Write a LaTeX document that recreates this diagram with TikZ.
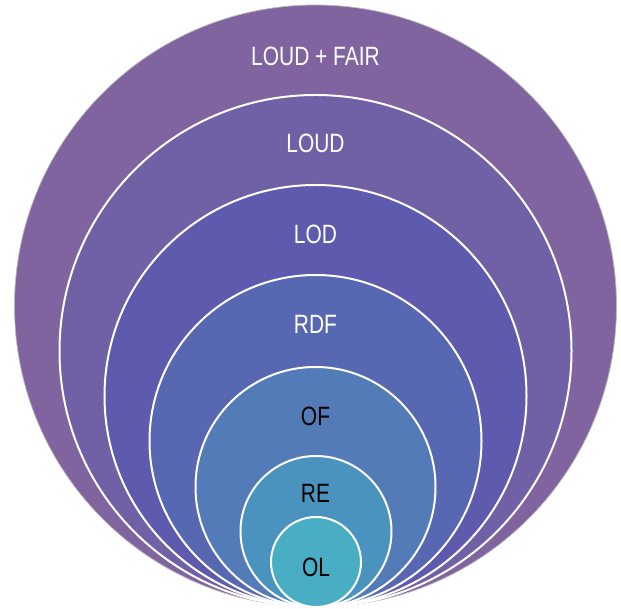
\documentclass[tikz,border=0pt]{standalone}
\usepackage{fontspec}
\setmainfont{Liberation Sans}[FakeStretch=0.79]
\definecolor{ringA}{HTML}{8064A0}
\definecolor{ringB}{HTML}{7060A6}
\definecolor{ringC}{HTML}{5E5AAE}
\definecolor{ringD}{HTML}{5767B2}
\definecolor{ringE}{HTML}{527BB8}
\definecolor{ringF}{HTML}{4B93BF}
\definecolor{ringG}{HTML}{49ADC4}
\tikzset{
  ring/.style={draw=white, line width=2pt},
  outerring/.style={draw=gray!55, line width=0.7pt},
  lightlabel/.style={text=white, anchor=base, inner sep=0pt, font=\fontsize{26.5}{28}\selectfont},
  darklabel/.style={text=black, anchor=base, inner sep=0pt, font=\fontsize{26.5}{28}\selectfont}
}
\begin{document}
\begin{tikzpicture}[x=1pt, y=1pt]
        \useasboundingbox (0, 0) rectangle (621, 609);

        \draw[outerring, fill=ringA](315.5, 303) circle (301);
        \draw[ring, fill=ringB](315.5, 258) circle (256);
        \draw[ring, fill=ringC](315.5, 213) circle (211);
        \draw[ring, fill=ringD](315.5, 168) circle (166);
        \draw[ring, fill=ringE](315.5, 122) circle (120);
        \draw[ring, fill=ringF](316, 77.5) circle (75.5);
        \draw[ring, fill=ringG](316, 47) circle (45);

        \node[lightlabel] (loudfair) at(315.5, 543){LOUD + FAIR};
        \node[lightlabel] (loud) at(315.5, 456){LOUD};
        \node[lightlabel] (lod) at(315.5, 365){LOD};
        \node[lightlabel] (rdf) at(315.5, 275){RDF};
        \node[darklabel] (of) at(315.5, 183){OF};
        \node[darklabel] (re) at(315.5, 106){RE};
        \node[darklabel] (ol) at(316, 32){OL};

    \end{tikzpicture}
\end{document}
